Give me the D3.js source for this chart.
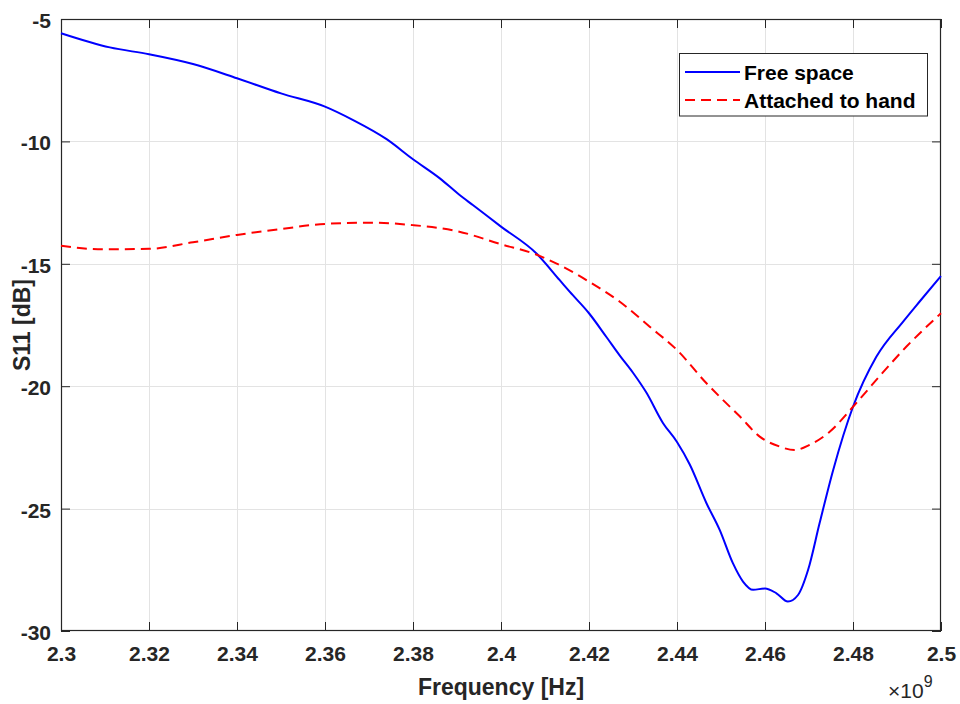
<!DOCTYPE html>
<html><head><meta charset="utf-8">
<script src="https://cdn.jsdelivr.net/npm/d3@7"></script>
<style>
html,body{margin:0;padding:0;background:#fff;}
svg{display:block;font-family:"Liberation Sans",Arial,Helvetica,sans-serif;}
</style></head>
<body>
<svg id="chart" width="960" height="704"></svg>
<script>
// Frequencies in GHz (axis shows ×10^9)
const freeFreq = [2.3000,2.3111,2.3200,2.3300,2.3400,2.3500,2.3600,2.3664,2.3740,2.3800,2.3861,2.3906,2.3936,2.4000,2.4080,2.4133,2.4156,2.4200,2.4240,2.4270,2.4300,2.4330,2.4368,2.4400,2.4429,2.4467,2.4497,2.4527,2.4550,2.4573,2.4600,2.4626,2.4652,2.4675,2.4698,2.4724,2.4755,2.4800,2.4853,2.4914,2.4951,2.5000];
const freeS11  = [-5.58,-6.16,-6.44,-6.84,-7.42,-8.04,-8.58,-9.13,-9.91,-10.73,-11.51,-12.19,-12.60,-13.48,-14.57,-15.66,-16.14,-17.02,-18.00,-18.75,-19.45,-20.25,-21.50,-22.28,-23.20,-24.78,-25.87,-27.23,-27.98,-28.32,-28.26,-28.46,-28.80,-28.53,-27.50,-25.60,-23.42,-20.84,-18.80,-17.36,-16.55,-15.50];
const handFreq = [2.3000,2.3095,2.3200,2.3300,2.3400,2.3500,2.3600,2.3703,2.3800,2.3899,2.4000,2.4080,2.4133,2.4200,2.4270,2.4338,2.4400,2.4467,2.4497,2.4542,2.4588,2.4634,2.4667,2.4701,2.4747,2.4800,2.4860,2.4921,2.5000];
const handS11  = [-14.26,-14.41,-14.39,-14.12,-13.82,-13.58,-13.37,-13.32,-13.42,-13.66,-14.20,-14.62,-15.05,-15.73,-16.55,-17.57,-18.52,-19.88,-20.43,-21.22,-22.06,-22.47,-22.61,-22.40,-21.86,-20.84,-19.60,-18.39,-17.02];
const xTicks = [2.3,2.32,2.34,2.36,2.38,2.4,2.42,2.44,2.46,2.48,2.5];
const yTicks = [-30,-25,-20,-15,-10,-5];
const seriesNames = ["Free space","Attached to hand"];
const xLabel = "Frequency [Hz]";
const yLabel = "S11 [dB]";

const svg = d3.select("#chart");
const L = 61, R = 941, T = 19, B = 631;
const x = d3.scaleLinear().domain([2.3, 2.5]).range([L, R]);
const y = d3.scaleLinear().domain([-30, -5]).range([B, T]);
const axisColor = "#262626";

// grid
const g = svg.append("g");
g.selectAll(".gx").data(xTicks.slice(1,-1)).enter().append("line")
  .attr("x1", d => Math.round(x(d)) + 0.5).attr("x2", d => Math.round(x(d)) + 0.5)
  .attr("y1", T).attr("y2", B).attr("stroke", "#e3e3e3").attr("stroke-width", 1);
g.selectAll(".gy").data(yTicks.slice(1,-1)).enter().append("line")
  .attr("y1", d => Math.round(y(d)) + 0.5).attr("y2", d => Math.round(y(d)) + 0.5)
  .attr("x1", L).attr("x2", R).attr("stroke", "#e3e3e3").attr("stroke-width", 1);

// axes using d3 axis (inner ticks)
const fmtX = d => d3.format("")(+d.toFixed(2));
const xAxisB = d3.axisBottom(x).tickValues(xTicks).tickSizeInner(-9).tickSizeOuter(0).tickFormat(fmtX).tickPadding(16);
const xAxisT = d3.axisTop(x).tickValues(xTicks).tickSizeInner(-9).tickSizeOuter(0).tickFormat("");
const yAxisL = d3.axisLeft(y).tickValues(yTicks).tickSizeInner(-9).tickSizeOuter(0).tickFormat(d => d).tickPadding(10);
const yAxisR = d3.axisRight(y).tickValues(yTicks).tickSizeInner(-9).tickSizeOuter(0).tickFormat("");

function styleAxis(sel){
  sel.select(".domain").remove();
  sel.selectAll(".tick line").attr("stroke", axisColor).attr("stroke-width", 1);
  sel.selectAll("text").attr("fill", axisColor).attr("font-size", 21).attr("font-weight", "bold")
    .attr("font-family", "'Liberation Sans',Arial,sans-serif");
}
svg.append("g").attr("transform", `translate(0,${B})`).call(xAxisB).call(styleAxis)
  .selectAll("text").attr("dy", "0.71em").attr("y", 15);
svg.append("g").attr("transform", `translate(0,${T})`).call(xAxisT).call(styleAxis);
svg.append("g").attr("transform", `translate(${L},0)`).call(yAxisL).call(styleAxis)
  .selectAll("text").attr("dy", "0.4em");
svg.append("g").attr("transform", `translate(${R},0)`).call(yAxisR).call(styleAxis);

// frame
svg.append("rect").attr("x", L + 0.5).attr("y", T + 0.5).attr("width", R - L - 1).attr("height", B - T - 1)
  .attr("fill", "none").attr("stroke", axisColor).attr("stroke-width", 1.2);

// lines
const line = d3.line().x(d => x(d[0])).y(d => y(d[1])).curve(d3.curveMonotoneX);
const plot = svg.append("g");
plot.append("path").datum(freeFreq.map((f,i) => [f, freeS11[i]]))
  .attr("d", line).attr("fill", "none").attr("stroke", "#0000ff").attr("stroke-width", 2);
plot.append("path").datum(handFreq.map((f,i) => [f, handS11[i]]))
  .attr("d", line).attr("fill", "none").attr("stroke", "#ff0000").attr("stroke-width", 2)
  .attr("stroke-dasharray", "10,6");

// axis labels
svg.append("text").attr("x", (L + R) / 2).attr("y", 695).attr("text-anchor", "middle")
  .attr("font-size", 23).attr("font-weight", "bold").attr("fill", axisColor).text(xLabel);
svg.append("text").attr("transform", `translate(30,${(T + B) / 2}) rotate(-90)`).attr("text-anchor", "middle")
  .attr("font-size", 23).attr("font-weight", "bold").attr("fill", axisColor).text(yLabel);

// exponent
const ex = svg.append("text").attr("x", 888).attr("y", 698).attr("fill", axisColor).attr("font-size", 21);
ex.append("tspan").text("×10");
ex.append("tspan").attr("font-size", 16).attr("dy", -11).text("9");

// legend
const lg = svg.append("g");
lg.append("rect").attr("x", 679.5).attr("y", 53.5).attr("width", 248).attr("height", 62.5)
  .attr("fill", "#fff").attr("stroke", axisColor).attr("stroke-width", 1);
const legendRows = [
  {name: seriesNames[0], color: "#0000ff", dash: null, cy: 72},
  {name: seriesNames[1], color: "#ff0000", dash: "10,6", cy: 100}
];
legendRows.forEach(r => {
  lg.append("line").attr("x1", 685).attr("x2", 740).attr("y1", r.cy).attr("y2", r.cy)
    .attr("stroke", r.color).attr("stroke-width", 2).attr("stroke-dasharray", r.dash);
  lg.append("text").attr("x", 744).attr("y", r.cy).attr("dy", "0.36em")
    .attr("font-size", 21).attr("font-weight", "bold").attr("fill", "#000").text(r.name);
});
</script>
</body></html>
